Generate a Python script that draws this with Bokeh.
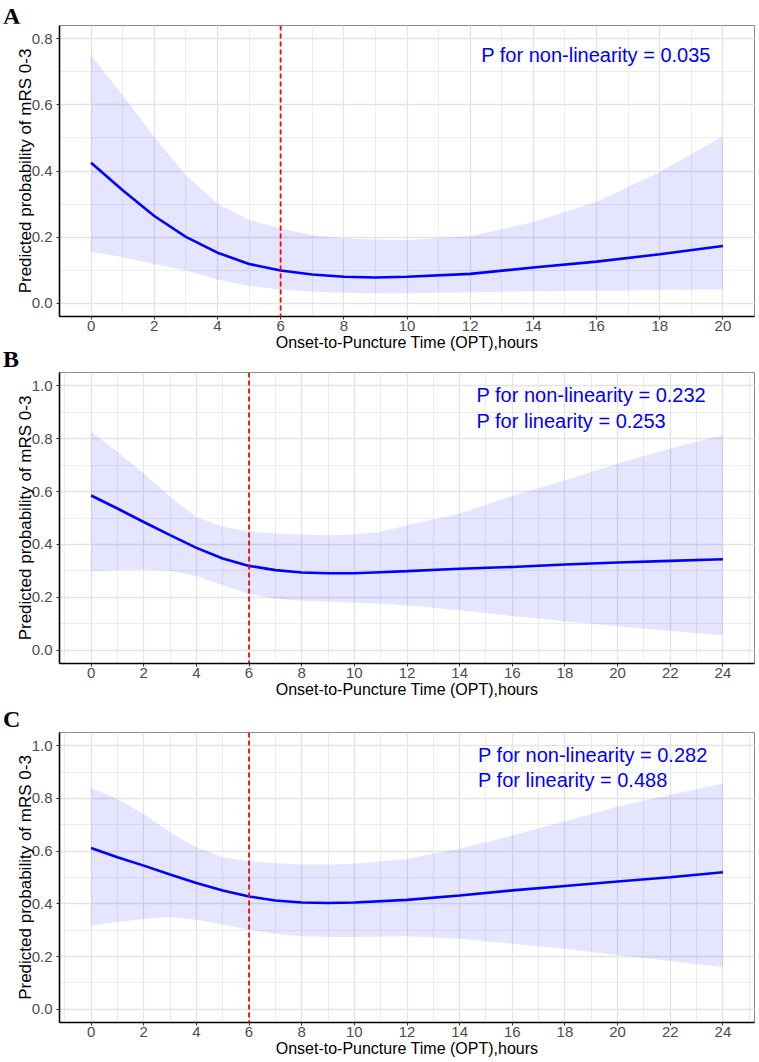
from bokeh.plotting import figure
from bokeh.layouts import column
from bokeh.models import Range1d, SingleIntervalTicker, PrintfTickFormatter, Span, Label, Div
from bokeh.embed import file_html
from bokeh.resources import INLINE

# ---------------- data ----------------
# Panel A
a_x = [0, 1, 2, 3, 4, 5, 6, 7, 8, 9, 10, 12, 14, 16, 18, 20]
a_fit = [0.425, 0.342, 0.264, 0.201, 0.153, 0.119, 0.099, 0.087, 0.080, 0.078,
         0.080, 0.089, 0.108, 0.126, 0.148, 0.173]
a_hi = [0.750, 0.629, 0.503, 0.387, 0.302, 0.252, 0.226, 0.206, 0.196, 0.193,
        0.191, 0.203, 0.246, 0.307, 0.397, 0.505]
a_lo = [0.156, 0.139, 0.119, 0.099, 0.072, 0.052, 0.042, 0.035, 0.032, 0.030,
        0.030, 0.033, 0.036, 0.038, 0.040, 0.042]
a_notes = ["P for non-linearity = 0.035"]

# Panel B
b_x = [0, 1, 2, 3, 4, 5, 6, 7, 8, 9, 10, 11, 12, 14, 16, 18, 20, 22, 24]
b_fit = [0.585, 0.536, 0.485, 0.435, 0.387, 0.347, 0.319, 0.303, 0.294, 0.291,
         0.291, 0.295, 0.299, 0.308, 0.315, 0.324, 0.332, 0.338, 0.344]
b_hi = [0.826, 0.750, 0.668, 0.580, 0.504, 0.467, 0.450, 0.441, 0.438, 0.435,
        0.438, 0.448, 0.473, 0.517, 0.583, 0.643, 0.706, 0.763, 0.813]
b_lo = [0.299, 0.303, 0.305, 0.300, 0.281, 0.246, 0.214, 0.195, 0.187, 0.183,
        0.180, 0.176, 0.170, 0.151, 0.130, 0.110, 0.091, 0.073, 0.057]
b_notes = ["P for non-linearity = 0.232", "P for linearity = 0.253"]

# Panel C
c_x = [0, 1, 2, 3, 4, 5, 6, 7, 8, 9, 10, 12, 14, 16, 18, 20, 22, 24]
c_fit = [0.612, 0.577, 0.545, 0.511, 0.479, 0.451, 0.428, 0.413, 0.405, 0.403,
         0.405, 0.415, 0.432, 0.451, 0.468, 0.485, 0.501, 0.520]
c_hi = [0.840, 0.798, 0.741, 0.672, 0.615, 0.577, 0.562, 0.554, 0.549, 0.549,
        0.552, 0.571, 0.609, 0.659, 0.713, 0.769, 0.814, 0.857]
c_lo = [0.318, 0.331, 0.343, 0.350, 0.340, 0.322, 0.302, 0.287, 0.277, 0.274,
        0.274, 0.277, 0.268, 0.249, 0.230, 0.205, 0.183, 0.160]
c_notes = ["P for non-linearity = 0.282", "P for linearity = 0.488"]

CUTOFF_HOURS = 6
X_TITLE = "Onset-to-Puncture Time (OPT),hours"
Y_TITLE = "Predicted probability of mRS 0-3"

# ---------------- styling / layout ----------------
W = 757
LEFT = 59
RIGHT = 3
TOP = 2
SANS = "Liberation Sans"


def expand(lo, hi, f=0.05):
    d = (hi - lo) * f
    return lo - d, hi + d


def letter_div(letter, height, top):
    html = ('<div style="position:relative;height:%dpx;width:40px;overflow:visible">'
            '<span style="position:absolute;left:3px;top:%dpx;font-family:\'Liberation Serif\';'
            'font-weight:bold;font-size:24px;line-height:24px;color:black">%s</span></div>'
            % (height, top, letter))
    return Div(text=html, width=40, height=height, margin=(0, 0, 0, 0),
               styles={"overflow": "visible"})


def panel(xs, fit, lo, hi, xlim, ylim, notes, note_x, note_y, note_dy, height, bottom):
    x0, x1 = expand(*xlim)
    y0, y1 = expand(*ylim)
    p = figure(width=W, height=height, output_backend="svg", toolbar_location=None,
               x_range=Range1d(x0, x1), y_range=Range1d(y0, y1),
               min_border_left=LEFT, min_border_right=RIGHT,
               min_border_top=TOP, min_border_bottom=bottom,
               background_fill_color="white", border_fill_color="white",
               margin=(0, 0, 0, 0))
    p.outline_line_color = "#8a8a8a"
    p.outline_line_width = 1

    p.xaxis.ticker = SingleIntervalTicker(interval=2, num_minor_ticks=2)
    p.yaxis.ticker = SingleIntervalTicker(interval=0.2, num_minor_ticks=2)
    p.xgrid.ticker = p.xaxis.ticker
    p.ygrid.ticker = p.yaxis.ticker
    p.yaxis.formatter = PrintfTickFormatter(format="%.1f")

    for g in (p.xgrid, p.ygrid):
        g.grid_line_color = "#e4e4e4"
        g.grid_line_width = 1.3
        g.minor_grid_line_color = "#ececec"
        g.minor_grid_line_width = 1.0

    for ax in (p.xaxis, p.yaxis):
        ax.axis_line_color = "black"
        ax.axis_line_width = 1.6
        ax.major_tick_line_color = "#333333"
        ax.major_tick_line_width = 1
        ax.major_tick_in = 0
        ax.major_tick_out = 3
        ax.minor_tick_line_color = None
        ax.major_label_text_font = SANS
        ax.major_label_text_font_size = "15px"
        ax.major_label_text_color = "#4d4d4d"
        ax.axis_label_text_font = SANS
        ax.axis_label_text_font_style = "normal"
        ax.axis_label_text_color = "black"
    p.xaxis.axis_label_standoff = 0
    p.yaxis.axis_label_standoff = -6
    p.xaxis.major_label_standoff = 0
    p.yaxis.major_label_standoff = 3
    p.xaxis.axis_label = X_TITLE
    p.yaxis.axis_label = Y_TITLE
    p.xaxis.axis_label_text_font_size = "16px"
    p.yaxis.axis_label_text_font_size = "17px"

    p.varea(x=xs, y1=lo, y2=hi, fill_color="blue", fill_alpha=0.1)
    p.line(x=xs, y=fit, line_color="#0000ff", line_width=2.6)

    p.add_layout(Span(location=CUTOFF_HOURS, dimension="height", line_color="red",
                      line_dash="5 3", line_width=1.8))

    for i, t in enumerate(notes):
        p.add_layout(Label(x=note_x, y=note_y - i * note_dy, text=t,
                           text_font=SANS, text_font_size="20px",
                           text_color="#0000ff", text_baseline="alphabetic"))
    return p


pa = panel(a_x, a_fit, a_lo, a_hi, (0, 20), (0, 0.8), a_notes,
           12.35, 0.752, 0.0, height=332, bottom=39)
pb = panel(b_x, b_fit, b_lo, b_hi, (0, 24), (0, 1.0), b_notes,
           14.64, 0.964, 0.099, height=332, bottom=39)
pc = panel(c_x, c_fit, c_lo, c_hi, (0, 24), (0, 1.0), c_notes,
           14.7, 0.965, 0.095, height=330, bottom=38)

layout = column(letter_div("A", 23, 4), pa,
                letter_div("B", 15, -8), pb,
                letter_div("C", 28, 5), pc,
                spacing=0, margin=(0, 0, 0, 0))

with open("out.html", "w") as f:
    f.write(file_html(layout, INLINE))
